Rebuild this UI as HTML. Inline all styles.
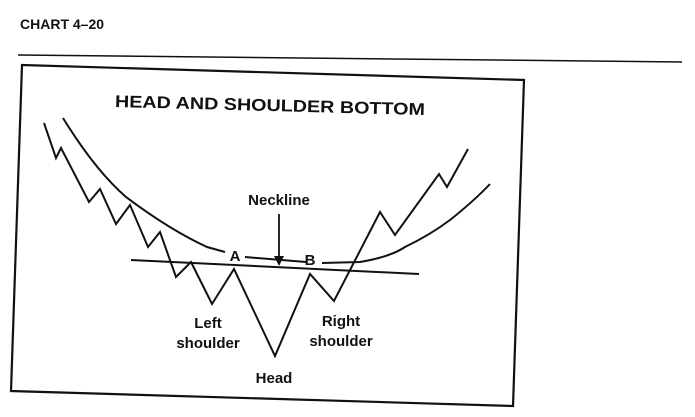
<!DOCTYPE html>
<html><head><style>
html,body{margin:0;padding:0;background:#fff;}
svg{display:block}
text{font-family:"Liberation Sans",sans-serif;font-weight:bold;fill:#111}
</style></head><body>
<svg width="695" height="417" viewBox="0 0 695 417" xmlns="http://www.w3.org/2000/svg">
<text x="20" y="29" font-size="14">CHART 4–20</text>
<line x1="18" y1="55" x2="682" y2="62" stroke="#111" stroke-width="1.5"/>
<polygon points="22,65 524,80 513,406 11,391" fill="none" stroke="#111" stroke-width="2.2"/>
<text x="115" y="111" font-size="17" textLength="310" lengthAdjust="spacingAndGlyphs" transform="rotate(1.5 270 105)">HEAD AND SHOULDER BOTTOM</text>
<polyline fill="none" stroke="#111" stroke-width="2" points="44,123 56,158 61,148 89,202 100,189 116,224 130,205 148,247 160,232 176,277 191,262 212,304 234,269 275,356 310,274 334,301 380,212 395,235 439,174 447,187 468,149"/>
<path fill="none" stroke="#111" stroke-width="2" d="M63,118 Q95,170 126,197 Q170,230 207,247 L225,252"/>
<path fill="none" stroke="#111" stroke-width="2" d="M245,257 L306,262"/>
<path fill="none" stroke="#111" stroke-width="2" d="M322,263 L360,262 Q390,257 405,247 Q430,235 450,220 Q475,200 490,184"/>
<line x1="131" y1="260" x2="419" y2="274" stroke="#111" stroke-width="2"/>
<line x1="279" y1="214" x2="279" y2="258" stroke="#111" stroke-width="1.8"/>
<polygon points="274,256 284,256 279,266" fill="#111"/>
<text x="279" y="205" font-size="15" text-anchor="middle">Neckline</text>
<text x="235" y="261" font-size="15" text-anchor="middle">A</text>
<text x="310" y="265" font-size="15" text-anchor="middle">B</text>
<text x="208" y="328" font-size="15" text-anchor="middle">Left</text>
<text x="208" y="348" font-size="15" text-anchor="middle">shoulder</text>
<text x="341" y="326" font-size="15" text-anchor="middle">Right</text>
<text x="341" y="346" font-size="15" text-anchor="middle">shoulder</text>
<text x="274" y="383" font-size="15" text-anchor="middle">Head</text>
</svg>
</body></html>
